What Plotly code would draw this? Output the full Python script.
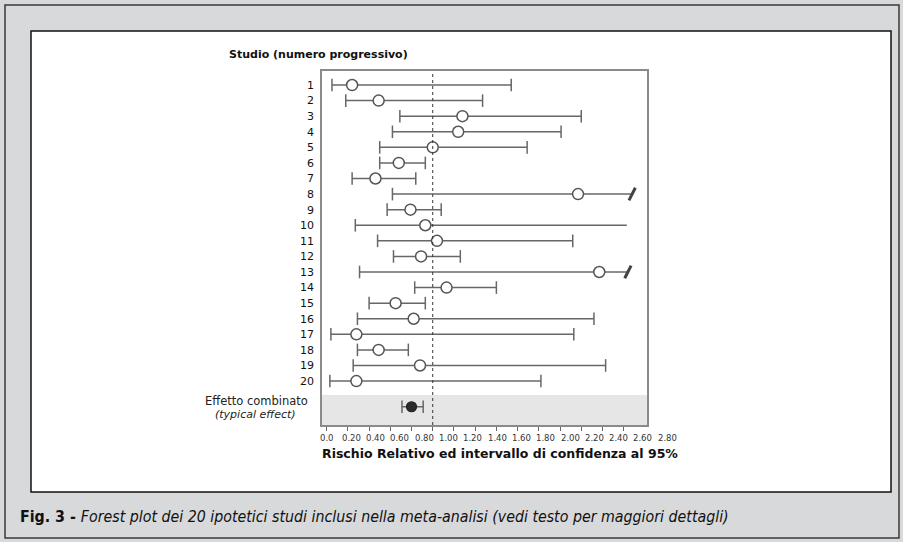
import plotly.graph_objects as go

# ---- data (relative risk, 95% CI) ----
studies = [str(i) for i in range(1, 21)]
rr = [0.24, 0.49, 1.28, 1.24, 1.00, 0.68, 0.46, 2.37, 0.79, 0.93,
      1.04, 0.89, 2.57, 1.13, 0.65, 0.82, 0.28, 0.49, 0.88, 0.28]
ci_low = [0.05, 0.18, 0.69, 0.62, 0.50, 0.50, 0.24, 0.62, 0.57, 0.27,
          0.48, 0.63, 0.31, 0.83, 0.40, 0.29, 0.04, 0.29, 0.25, 0.03]
ci_high = [1.74, 1.47, 2.40, 2.21, 1.89, 0.93, 0.84, 2.88, 1.08, 2.83,
           2.32, 1.26, 2.84, 1.60, 0.93, 2.52, 2.33, 0.77, 2.63, 2.02]
truncated = [8, 13]          # upper limit beyond the scale (drawn with a slash)
no_upper_cap = [10]
combined_rr, combined_low, combined_high = 0.80, 0.71, 0.91
ref_line = 1.0
tick_labels = ["0.0", "0.20", "0.40", "0.60", "0.80", "1.00", "1.20", "1.40",
               "1.60", "1.80", "2.00", "2.20", "2.40", "2.60", "2.80"]

# ---- layout geometry (pixels of the 903x542 canvas) ----
W, H = 903, 542
L, R, T, B = 322, 647, 71, 425
pw, ph = R - L, B - T
def px(x):
    return (x - L) / pw
def py(y):
    return (B - y) / ph

combined_y = 21.65
LINE = "#676767"
EDGE = "#555555"

ys = list(range(1, 21))

fig = go.Figure()

# CI lines
lx, ly = [], []
for i, y in enumerate(ys):
    lx += [ci_low[i], ci_high[i], None]
    ly += [y, y, None]
lx += [combined_low, combined_high]
ly += [combined_y, combined_y]
fig.add_trace(go.Scatter(x=lx, y=ly, mode="lines", line=dict(color=LINE, width=1.5),
                         hoverinfo="skip", showlegend=False))

# caps
cx, cy = [], []
for i, y in enumerate(ys):
    cx.append(ci_low[i]); cy.append(y)
    if y not in truncated and y not in no_upper_cap:
        cx.append(ci_high[i]); cy.append(y)
cx += [combined_low, combined_high]
cy += [combined_y, combined_y]
fig.add_trace(go.Scatter(x=cx, y=cy, mode="markers",
                         marker=dict(symbol="line-ns", size=9,
                                     line=dict(color=LINE, width=1.5)),
                         hoverinfo="skip", showlegend=False))

# slashes for truncated intervals
fig.add_trace(go.Scatter(x=[ci_high[s - 1] for s in truncated], y=truncated, mode="markers",
                         marker=dict(symbol="line-ne", size=10, angle=-18,
                                     line=dict(color="#444", width=3)),
                         hoverinfo="skip", showlegend=False))

# point estimates
fig.add_trace(go.Scatter(x=rr, y=ys, mode="markers",
                         marker=dict(symbol="circle", size=11, color="white",
                                     line=dict(color=EDGE, width=1.5)),
                         showlegend=False))
fig.add_trace(go.Scatter(x=[combined_rr], y=[combined_y], mode="markers",
                         marker=dict(symbol="circle", size=10, color="#2b2b2b",
                                     line=dict(color="#222", width=1.2)),
                         showlegend=False))

shapes = [
    # outer frame
    dict(type="rect", xref="paper", yref="paper", x0=px(5), x1=px(899), y0=py(538), y1=py(5),
         line=dict(color="#3a3a3a", width=1.5), fillcolor="#d8d9db", layer="below"),
    # white inner box
    dict(type="rect", xref="paper", yref="paper", x0=px(31), x1=px(891), y0=py(492), y1=py(31),
         line=dict(color="#111", width=1.5), fillcolor="white", layer="below"),
    # grey band for combined effect
    dict(type="rect", xref="x domain", yref="y", x0=0, x1=1, y0=20.9, y1=22.82,
         line=dict(width=0), fillcolor="#e6e6e6", layer="below"),
    # reference line
    dict(type="line", xref="x", yref="y domain", x0=ref_line, x1=ref_line, y0=0, y1=1,
         line=dict(color="#333", width=1, dash="dot")),
]

ann = []
for k, t in enumerate(tick_labels):
    ann.append(dict(x=px(327 + 24.3 * k), y=py(438), xref="paper", yref="paper", text=t,
                    showarrow=False, xanchor="center", yanchor="middle",
                    font=dict(family="DejaVu Sans", size=8.5, color="#333")))
ann += [
    dict(x=px(500), y=py(453), xref="paper", yref="paper",
         text="<b>Rischio Relativo ed intervallo di confidenza al 95%</b>",
         showarrow=False, xanchor="center", yanchor="middle",
         font=dict(family="DejaVu Sans", size=12.5, color="#111")),
    dict(x=px(227), y=py(54), xref="paper", yref="paper",
         text="<b>Studio (numero progressivo)</b>",
         showarrow=False, xanchor="left", yanchor="middle",
         font=dict(family="DejaVu Sans", size=11, color="#111")),
    dict(x=px(256), y=py(401), xref="paper", yref="paper", text="Effetto combinato",
         showarrow=False, xanchor="center", yanchor="middle",
         font=dict(family="DejaVu Sans", size=11.5, color="#222")),
    dict(x=px(255), y=py(414), xref="paper", yref="paper", text="<i>(typical effect)</i>",
         showarrow=False, xanchor="center", yanchor="middle",
         font=dict(family="DejaVu Sans", size=11, color="#222")),
    dict(x=px(18), y=py(516), xref="paper", yref="paper",
         text="<b>Fig. 3 - </b><i>Forest plot dei 20 ipotetici studi inclusi nella meta-analisi (vedi testo per maggiori dettagli)</i>",
         showarrow=False, xanchor="left", yanchor="middle",
         font=dict(family="Liberation Sans Narrow, DejaVu Sans Condensed, Liberation Sans",
                   size=15.8, color="#111")),
]

fig.update_layout(
    width=W, height=H,
    margin=dict(l=L, r=W - R, t=T, b=H - B, pad=0),
    paper_bgcolor="#d8d9db",
    plot_bgcolor="white",
    shapes=shapes,
    annotations=ann,
    xaxis=dict(range=[-0.044, 3.02], showgrid=False, zeroline=False,
               tickvals=[0.2 * k for k in range(15)], showticklabels=False,
               ticks="outside", ticklen=4, tickwidth=1, tickcolor="#666",
               showline=True, mirror=True, linecolor="#8a8a8a", linewidth=1.5),
    yaxis=dict(range=[22.82, 0.10], showgrid=False, zeroline=False,
               tickvals=ys, ticktext=studies, ticks="",
               tickfont=dict(family="DejaVu Sans", size=11, color="#111"),
               ticklabelstandoff=4,
               showline=True, mirror=True, linecolor="#8a8a8a", linewidth=1.5),
)

fig.write_html("out.html", config={"displayModeBar": False},
               post_script="document.body.style.margin='0px';document.body.style.overflow='hidden';")
